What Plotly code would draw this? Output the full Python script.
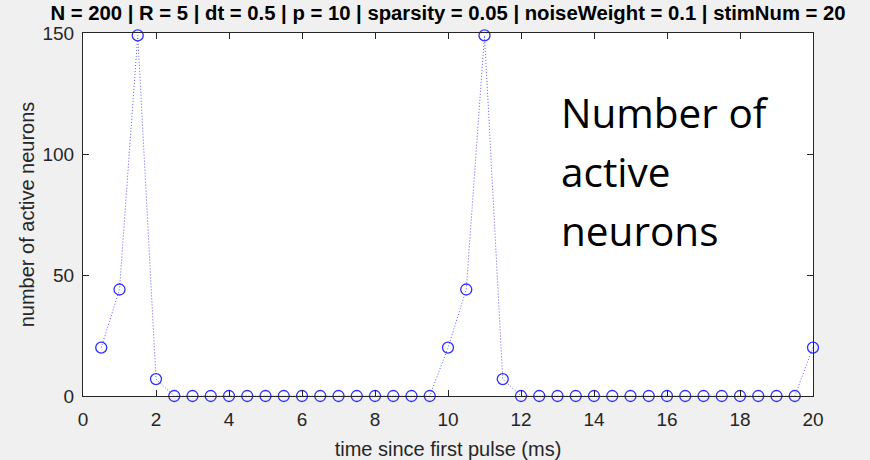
import plotly.graph_objects as go

time_ms = [0.5, 1, 1.5, 2, 2.5, 3, 3.5, 4, 4.5, 5, 5.5, 6, 6.5, 7, 7.5, 8, 8.5, 9, 9.5, 10,
           10.5, 11, 11.5, 12, 12.5, 13, 13.5, 14, 14.5, 15, 15.5, 16, 16.5, 17, 17.5, 18, 18.5, 19, 19.5, 20]
active = [20, 44, 149, 7, 0, 0, 0, 0, 0, 0, 0, 0, 0, 0, 0, 0, 0, 0, 0, 20,
          44, 149, 7, 0, 0, 0, 0, 0, 0, 0, 0, 0, 0, 0, 0, 0, 0, 0, 0, 20]
x_ticks = [0, 2, 4, 6, 8, 10, 12, 14, 16, 18, 20]
y_ticks = [0, 50, 100, 150]

title = "N = 200 | R = 5 | dt = 0.5 | p = 10 | sparsity = 0.05 | noiseWeight = 0.1 | stimNum = 20"
note_lines = ["Number of", "active", "neurons"]

FONT = "Liberation Sans, Arial"
fig = go.Figure()
fig.add_trace(go.Scatter(
    x=time_ms, y=active, mode="lines",
    line=dict(color="#5a5aff", width=1, dash="1px,2px"),
    showlegend=False, hoverinfo="skip",
))
fig.add_trace(go.Scatter(
    x=time_ms, y=active, mode="markers",
    marker=dict(symbol="circle-open", size=11, color="#2e2eff", line=dict(width=1.3, color="#2e2eff")),
    cliponaxis=False, showlegend=False,
))

axis_common = dict(
    showgrid=False, zeroline=False, showline=True, linecolor="#262626", linewidth=1,
    mirror="ticks", ticks="inside", ticklen=6, tickcolor="#262626", automargin=False,
    tickfont=dict(family=FONT, size=19, color="#262626"),
)
fig.update_xaxes(range=[0, 20], tickvals=x_ticks, ticklabelstandoff=6,
                 title=dict(text="time since first pulse (ms)", font=dict(family=FONT, size=20, color="#262626"), standoff=15),
                 **axis_common)
fig.update_yaxes(range=[0, 150], tickvals=y_ticks, ticklabelstandoff=4,
                 title=dict(text="number of active neurons", font=dict(family=FONT, size=20, color="#262626"), standoff=2),
                 **axis_common)

# positions of the three text lines (line centres in paper coords)
line_y = [0.78, 0.618, 0.455]
annotations = [dict(
    text=t, xref="paper", yref="paper", x=0.652, y=yy, xanchor="left", yanchor="middle",
    align="left", showarrow=False, font=dict(family="Open Sans", size=40.5, color="#000000"),
) for t, yy in zip(note_lines, line_y)]

fig.update_layout(
    width=870, height=460,
    margin=dict(l=83, r=57, t=33, b=64),
    paper_bgcolor="#f0f0f0", plot_bgcolor="#ffffff",
    title=dict(text="<b>" + title + "</b>", x=0.515, xanchor="center", y=0.972, yanchor="middle",
               font=dict(family=FONT, size=20.3, color="#000000")),
    annotations=annotations,
)

fig.write_html("out.html")
